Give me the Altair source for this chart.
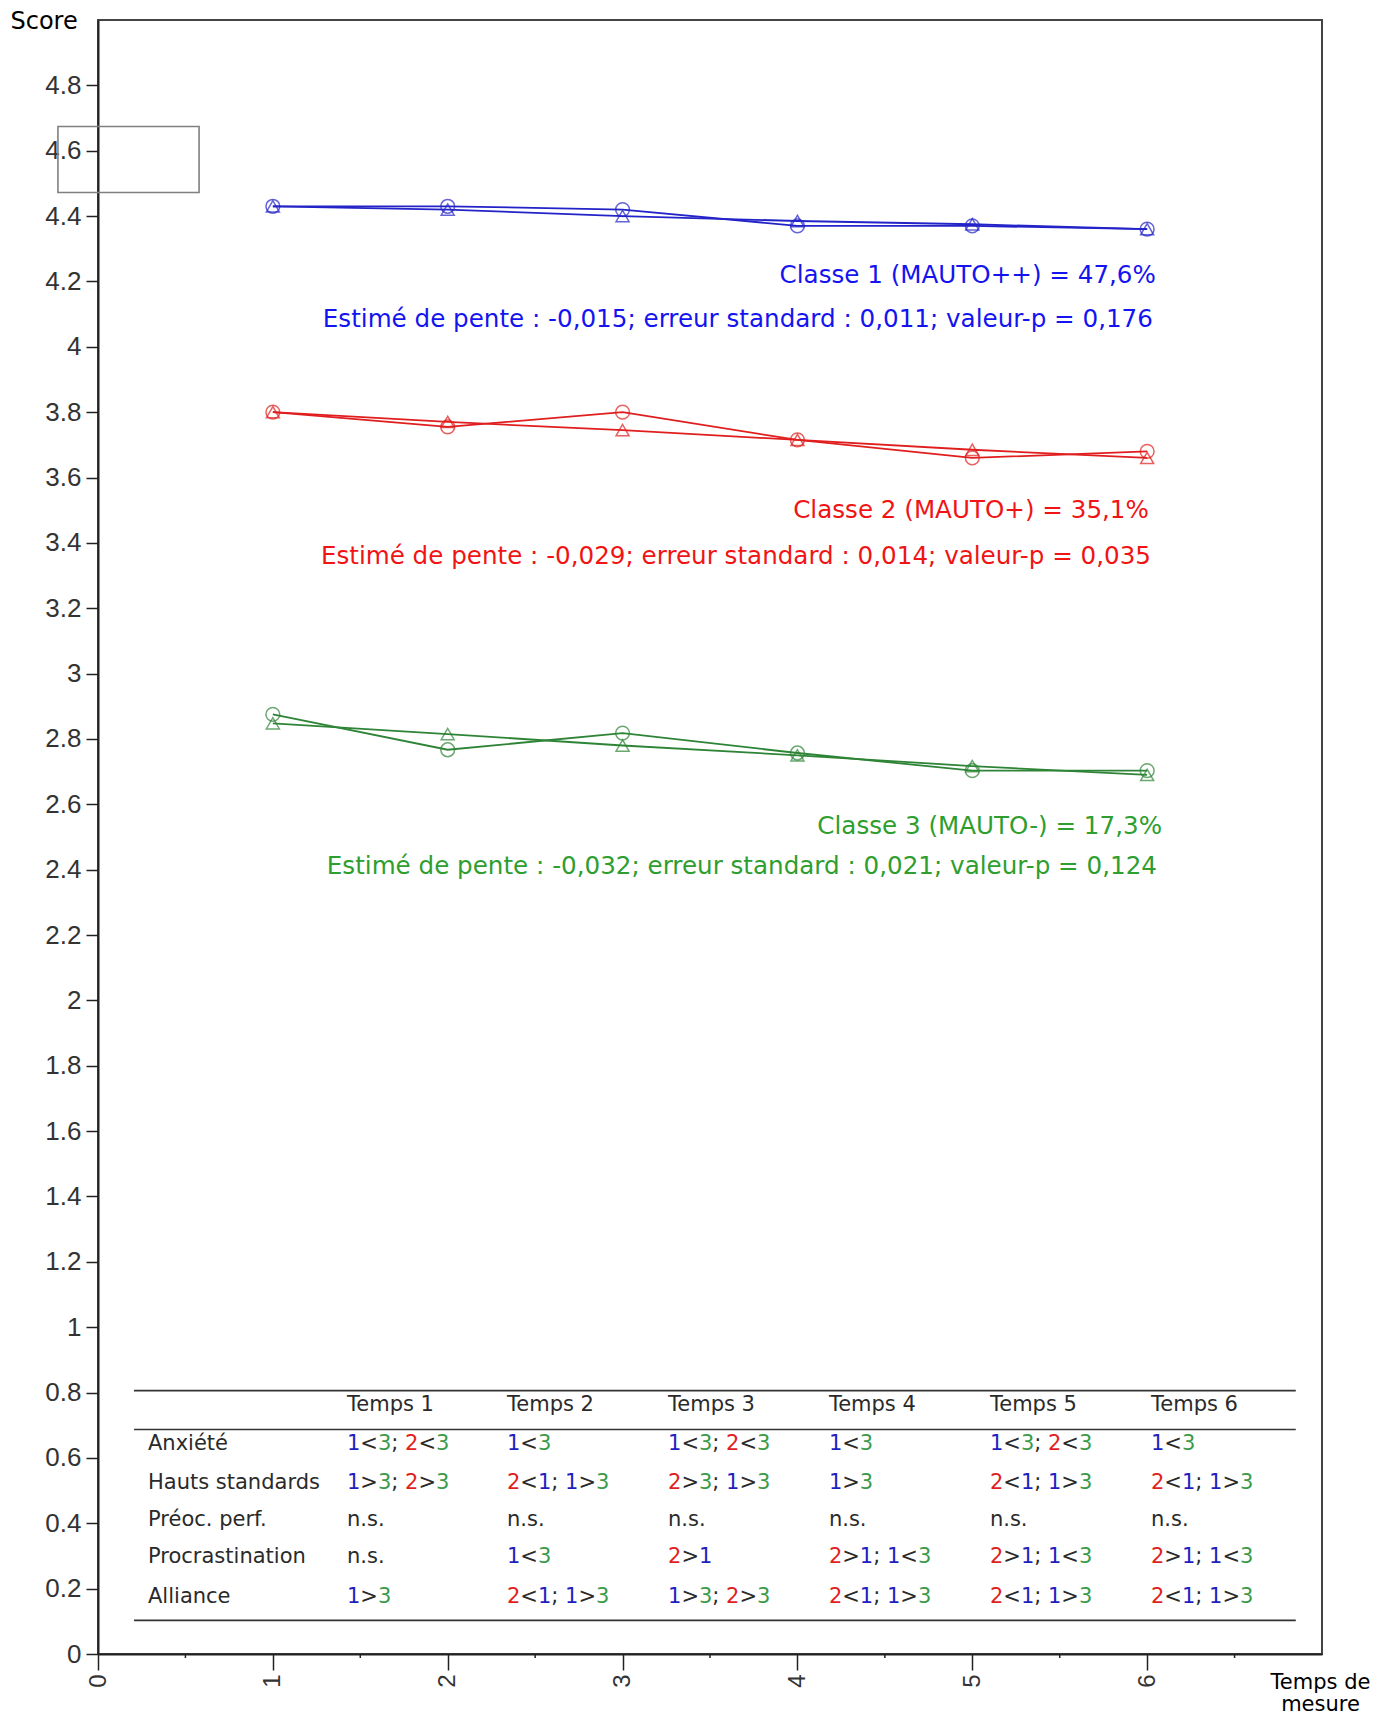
import altair as alt
import pandas as pd

# ---------------- data ----------------
times = [1, 2, 3, 4, 5, 6]
classes = ["Classe 1", "Classe 2", "Classe 3"]
classe1_cercle = [4.43, 4.43, 4.42, 4.37, 4.37, 4.36]
classe1_triangle = [4.43, 4.42, 4.40, 4.385, 4.375, 4.36]
classe2_cercle = [3.80, 3.755, 3.80, 3.715, 3.66, 3.68]
classe2_triangle = [3.80, 3.77, 3.745, 3.715, 3.685, 3.66]
classe3_cercle = [2.875, 2.767, 2.818, 2.757, 2.703, 2.703]
classe3_triangle = [2.848, 2.815, 2.78, 2.75, 2.717, 2.69]

annot_lines = [
    "Classe 1 (MAUTO++) = 47,6%",
    "Estimé de pente : -0,015; erreur standard : 0,011; valeur-p = 0,176",
    "Classe 2 (MAUTO+) = 35,1%",
    "Estimé de pente : -0,029; erreur standard : 0,014; valeur-p = 0,035",
    "Classe 3 (MAUTO-) = 17,3%",
    "Estimé de pente : -0,032; erreur standard : 0,021; valeur-p = 0,124",
]
annot_class = ["Classe 1", "Classe 1", "Classe 2", "Classe 2", "Classe 3", "Classe 3"]

table_headers = ["Temps 1", "Temps 2", "Temps 3", "Temps 4", "Temps 5", "Temps 6"]
table_rows = ["Anxiété", "Hauts standards", "Préoc. perf.", "Procrastination", "Alliance"]
table_cells = [
    ["1<3; 2<3", "1<3", "1<3; 2<3", "1<3", "1<3; 2<3", "1<3"],
    ["1>3; 2>3", "2<1; 1>3", "2>3; 1>3", "1>3", "2<1; 1>3", "2<1; 1>3"],
    ["n.s.", "n.s.", "n.s.", "n.s.", "n.s.", "n.s."],
    ["n.s.", "1<3", "2>1", "2>1; 1<3", "2>1; 1<3", "2>1; 1<3"],
    ["1>3", "2<1; 1>3", "1>3; 2>3", "2<1; 1>3", "2<1; 1>3", "2<1; 1>3"],
]

y_ticks = [round(0.2 * i, 1) for i in range(25)]
x_ticks = [0, 1, 2, 3, 4, 5, 6]
x_minor = [0.5, 1.5, 2.5, 3.5, 4.5, 5.5, 6.5]

# ---------------- layout / style ----------------
W_PLOT, H_PLOT = 1224, 1634
X_MAX, Y_MAX = 7, 5
PX_PER_UNIT = W_PLOT / X_MAX

line_colors = ["#2323C8", "#E01E1E", "#2E8436"]
text_colors = {"Classe 1": "#1414F0", "Classe 2": "#F01414", "Classe 3": "#2E9E2E"}
digit_colors = {"1": "#1E1EC0", "2": "#E01E1E", "3": "#3A9A4A"}
DARK = "#2a2a2a"

annot_x = [6.05, 6.033, 6.01, 6.022, 6.085, 6.056]
annot_y = [4.216, 4.081, 3.499, 3.358, 2.532, 2.407]

col_x = [1.424, 2.339, 3.26, 4.18, 5.101, 6.022]
label_x = 0.286
header_y = 0.763
row_y = [0.644, 0.522, 0.409, 0.296, 0.173]
rule_y = [0.806, 0.687, 0.103]
rule_x0, rule_x1 = 0.206, 6.85

box = pd.DataFrame([{"x": -0.229, "x2": 0.578, "y": 4.472, "y2": 4.674}])

TABLE_FS = 21
CHAR_W = {"1": 0.636, "2": 0.636, "3": 0.636, "<": 0.838, ">": 0.838, ";": 0.337, " ": 0.318}

# ---------------- frames ----------------
series = []
for cls, circ, tri in [
    ("Classe 1", classe1_cercle, classe1_triangle),
    ("Classe 2", classe2_cercle, classe2_triangle),
    ("Classe 3", classe3_cercle, classe3_triangle),
]:
    for t, v in zip(times, circ):
        series.append({"x": t, "y": v, "classe": cls, "forme": "cercle", "serie": cls + "c"})
    for t, v in zip(times, tri):
        series.append({"x": t, "y": v, "classe": cls, "forme": "triangle", "serie": cls + "t"})
df = pd.DataFrame(series)

annot_df = pd.DataFrame({
    "x": annot_x, "y": annot_y, "t": annot_lines,
    "c": [text_colors[c] for c in annot_class],
})

tbl = []
for ci, h in enumerate(table_headers):
    tbl.append({"x": col_x[ci], "y": header_y, "t": h, "c": DARK})
for ri, rname in enumerate(table_rows):
    tbl.append({"x": label_x, "y": row_y[ri], "t": rname, "c": DARK})
    for ci, cell in enumerate(table_cells[ri]):
        if cell == "n.s.":
            tbl.append({"x": col_x[ci], "y": row_y[ri], "t": cell, "c": DARK})
        else:
            off = 0.0
            for ch in cell:
                if ch != " ":
                    tbl.append({"x": col_x[ci] + off / PX_PER_UNIT, "y": row_y[ri], "t": ch,
                                "c": digit_colors.get(ch, DARK)})
                off += CHAR_W[ch] * TABLE_FS
tbl_df = pd.DataFrame(tbl)

rules_df = pd.DataFrame({"y": rule_y, "x": [rule_x0] * 3, "x2": [rule_x1] * 3})
minor_df = pd.DataFrame({"x": x_minor})

xs = alt.Scale(domain=[0, X_MAX], nice=False, zero=False)
ys = alt.Scale(domain=[0, Y_MAX], nice=False, zero=False)

x_axis = alt.Axis(
    values=x_ticks, format="d", labelAngle=270, tickSize=16, tickWidth=1.5, tickColor="#222",
    labelPadding=4, labelFont="Liberation Sans", labelFontSize=24, labelColor="#333",
    labelFlush=False, labelOverlap=False, grid=False, domainColor="#222", domainWidth=2,
    title=["Temps de", "mesure"], titleFont="DejaVu Sans", titleFontSize=21,
    titleFontWeight="normal", titleColor="#000", titleAnchor="start", titleAlign="center",
    titleX=1222, titleY=17, titleBaseline="top", titleLineHeight=22,
)
y_axis = alt.Axis(
    values=y_ticks, format=".1~f", tickSize=12, tickWidth=1.5, tickColor="#222",
    labelPadding=5, labelFont="Liberation Sans", labelFontSize=26, labelColor="#333",
    grid=False, domainColor="#222", domainWidth=2,
    title="Score", titleAngle=0, titleX=-88, titleY=1, titleAlign="left",
    titleBaseline="middle", titleFont="DejaVu Sans", titleFontSize=24,
    titleFontWeight="normal", titleColor="#000",
)


def X(field="x:Q"):
    return alt.X(field, scale=xs, axis=x_axis)


def Y(field="y:Q"):
    return alt.Y(field, scale=ys, axis=y_axis)


color_enc = alt.Color("classe:N", scale=alt.Scale(domain=classes, range=line_colors), legend=None)

lines = alt.Chart(df).mark_line(strokeWidth=1.8).encode(
    x=X(), y=Y(), color=color_enc, detail="serie:N",
)
pts_c = alt.Chart(df[df.forme == "cercle"]).mark_point(
    shape="circle", filled=False, size=190, strokeWidth=1.5
).encode(x=X(), y=Y(), color=color_enc)
pts_t = alt.Chart(df[df.forme == "triangle"]).mark_point(
    shape="triangle-up", filled=False, size=170, strokeWidth=1.5
).encode(x=X(), y=Y(), color=color_enc)

annots = alt.Chart(annot_df).mark_text(
    align="right", baseline="middle", font="DejaVu Sans", fontSize=24.6
).encode(x=X(), y=Y(), text="t:N", color=alt.Color("c:N", scale=None))

box_layer = alt.Chart(box).mark_rect(fill=None, stroke="#808080", strokeWidth=1.6).encode(
    x=X(), x2="x2:Q", y=Y(), y2="y2:Q",
)

table_rules = alt.Chart(rules_df).mark_rule(color="#333", strokeWidth=1.6).encode(
    x=X(), x2="x2:Q", y=Y(),
)

table_text = alt.Chart(tbl_df).mark_text(
    align="left", baseline="middle", font="DejaVu Sans", fontSize=TABLE_FS
).encode(x=X(), y=Y(), text="t:N", color=alt.Color("c:N", scale=None))

minor_ticks = alt.Chart(minor_df).mark_rule(color="#222", strokeWidth=1.5).encode(
    x=X(), y=alt.value(H_PLOT), y2=alt.value(H_PLOT + 4),
)

chart = alt.layer(
    box_layer, lines, pts_c, pts_t, annots, table_rules, table_text, minor_ticks
).properties(
    width=W_PLOT, height=H_PLOT,
    autosize=alt.AutoSizeParams(type="none"),
    padding={"left": 90, "top": 12, "right": 60, "bottom": 65},
    background="white",
).configure_view(
    stroke="#444", strokeWidth=2
)

chart.save("out.html", embed_options={"renderer": "svg", "actions": False})
